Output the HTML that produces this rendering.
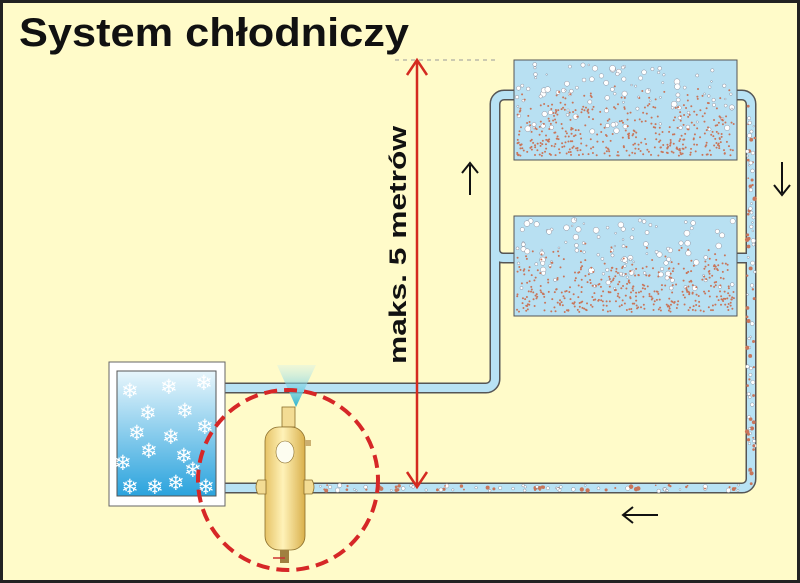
<!DOCTYPE html>
<html><head><meta charset="utf-8"><style>
html,body{margin:0;padding:0;background:#fffbc9}
svg{display:block}
</style></head><body>
<svg id="s" width="800" height="583" viewBox="0 0 800 583" xmlns="http://www.w3.org/2000/svg">
<defs>
<linearGradient id="cold" x1="0" y1="0" x2="0" y2="1">
<stop offset="0" stop-color="#e8f6fc"/><stop offset="1" stop-color="#2aa3dd"/></linearGradient>
<linearGradient id="cyl" x1="0" y1="0" x2="1" y2="0">
<stop offset="0" stop-color="#e6c366"/><stop offset="0.45" stop-color="#fff2b8"/><stop offset="1" stop-color="#d9b04c"/></linearGradient>
<linearGradient id="cone" x1="0" y1="0" x2="0" y2="1">
<stop offset="0" stop-color="#c9eef4" stop-opacity="0.3"/><stop offset="1" stop-color="#2bb3d0"/></linearGradient>
</defs>
<rect x="1.5" y="1.5" width="797" height="580" fill="#fffbc9" stroke="#222" stroke-width="3"/>
<text x="19" y="46" font-family="Liberation Sans, sans-serif" font-weight="bold" font-size="40" textLength="390" lengthAdjust="spacingAndGlyphs" fill="#111">System chłodniczy</text>
<line x1="395" y1="60" x2="495" y2="60" stroke="#999" stroke-dasharray="4,4" stroke-width="1"/>
<g fill="none" stroke-linejoin="round">
<path d="M215 388 H486 a9 9 0 0 0 9 -9 V104 a9 9 0 0 1 9 -9 H515 M495 250 a8 8 0 0 0 8 8 H515" stroke="#555" stroke-width="11"/>
<path d="M215 388 H486 a9 9 0 0 0 9 -9 V104 a9 9 0 0 1 9 -9 H515 M495 250 a8 8 0 0 0 8 8 H515" stroke="#b8e2f4" stroke-width="8"/>
<path d="M736 95 H742 a9 9 0 0 1 9 9 V479 a9 9 0 0 1 -9 9 H215 M736 258 H750" stroke="#555" stroke-width="11"/>
<path d="M736 95 H742 a9 9 0 0 1 9 9 V479 a9 9 0 0 1 -9 9 H215 M736 258 H750" stroke="#b8e2f4" stroke-width="8"/>
</g>
<rect x="514" y="60" width="223" height="100" fill="#b8e0f2" stroke="#555"/>
<rect x="514" y="216" width="223" height="100" fill="#b8e0f2" stroke="#555"/>
<g id="bub"></g>
<rect x="109" y="362" width="116" height="144" fill="#fff" stroke="#666"/>
<rect x="117" y="371" width="99" height="125" fill="url(#cold)" stroke="#555"/>
<g font-family="DejaVu Sans, sans-serif" font-size="21" fill="#fff">
<text x="121" y="398">❄</text><text x="160" y="394">❄</text><text x="195" y="390">❄</text>
<text x="139" y="420">❄</text><text x="176" y="418">❄</text>
<text x="128" y="440">❄</text><text x="162" y="444">❄</text><text x="196" y="434">❄</text>
<text x="140" y="458">❄</text><text x="175" y="463">❄</text><text x="114" y="470">❄</text>
<text x="184" y="477">❄</text><text x="121" y="494">❄</text><text x="146" y="494">❄</text><text x="167" y="490">❄</text><text x="197" y="494">❄</text>
</g>
<polygon points="277,365 316,365 296,407" fill="url(#cone)"/>
<rect x="282" y="407" width="13" height="20" fill="#f3dc94" stroke="#8a6d2a" stroke-width="0.8"/>
<rect x="265" y="427" width="40" height="123" rx="14" fill="url(#cyl)" stroke="#8a6d2a" stroke-width="0.8"/>
<path d="M258 480 q-4 7 0 14 h8 v-14z M312 480 q4 7 0 14 h-8 v-14z" fill="#f3dc94" stroke="#8a6d2a" stroke-width="0.8"/>
<ellipse cx="285" cy="452" rx="9" ry="11" fill="#fdfdf0" stroke="#8a6d2a" stroke-width="0.6"/>
<rect x="305" y="440" width="6" height="6" fill="#ccb070"/>
<rect x="280" y="550" width="9" height="13" fill="#a08040"/>
<line x1="273" y1="558" x2="285" y2="558" stroke="#c33" stroke-width="1.5"/>
<circle cx="288" cy="480" r="90" fill="none" stroke="#d62727" stroke-width="4" stroke-dasharray="13,7"/>
<g stroke="#d42a20" stroke-width="2.5" fill="none">
<line x1="417" y1="61" x2="417" y2="487"/>
<polyline points="407,75 417,60 427,75"/><polyline points="407,472 417,487 427,472"/>
</g>
<text transform="translate(406,245) rotate(-90)" text-anchor="middle" font-family="Liberation Sans, sans-serif" font-weight="bold" font-size="24" textLength="238" lengthAdjust="spacingAndGlyphs" fill="#111">maks. 5 metrów</text>
<g stroke="#111" stroke-width="2" fill="none">
<line x1="470" y1="165" x2="470" y2="195"/><polyline points="462,173 470,163 478,173"/>
<line x1="782" y1="162" x2="782" y2="193"/><polyline points="774,185 782,195 790,185"/>
<line x1="624" y1="515" x2="658" y2="515"/><polyline points="633,507 623,515 633,523"/>
</g>
</svg>
<script>
(function(){var g=document.getElementById('bub'),ns='http://www.w3.org/2000/svg',s=7;
function r(){s=(s*9301+49297)%233280;return s/233280;}
function c(x,y,rad,f){var e=document.createElementNS(ns,'circle');e.setAttribute('cx',x);e.setAttribute('cy',y);e.setAttribute('r',rad);e.setAttribute('fill',f);if(f=='#fff'){e.setAttribute('stroke','#778');e.setAttribute('stroke-width','0.4');}g.appendChild(e);}
[60,216].forEach(function(y0){
for(var i=0;i<110;i++){c(517+r()*217,y0+3+r()*70,0.8+r()*2.2,'#fff');}
for(var i=0;i<420;i++){var t=Math.sqrt(r());c(517+r()*217,y0+96-(1-t)*70,1,'#c8755a');}
});
for(var i=0;i<90;i++){c(747+r()*8,104+r()*380,0.8+r()*1.5,i%2?'#fff':'#c8755a');}
for(var i=0;i<90;i++){c(310+r()*435,485+r()*6,0.8+r()*1.5,i%2?'#fff':'#c8755a');}
})();
</script>
</body></html>
